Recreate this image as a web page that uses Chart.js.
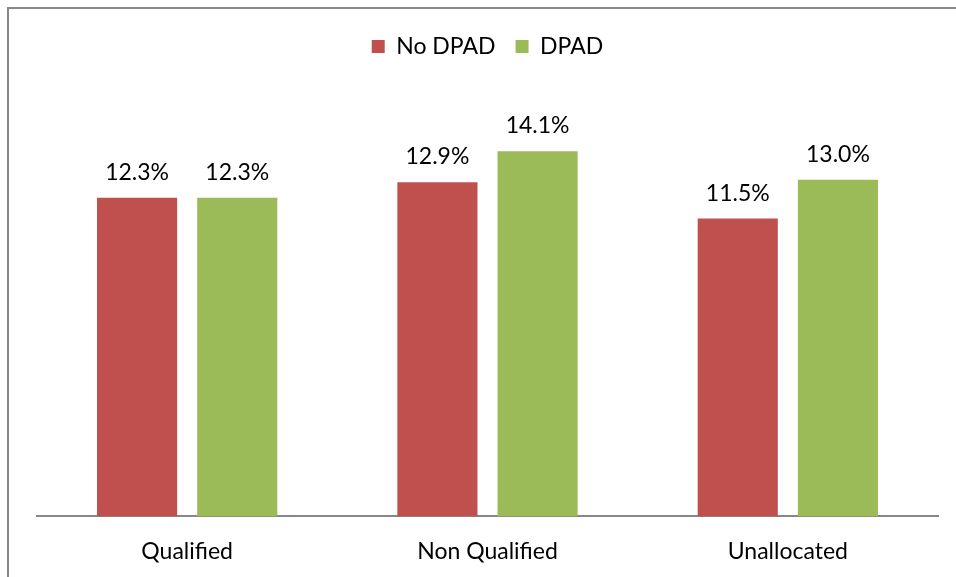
<!DOCTYPE html>
<html>
<head>
<meta charset="utf-8">
<script src="https://cdn.jsdelivr.net/npm/chart.js@4"></script>
<style>
  html, body { margin: 0; padding: 0; background: #fff; overflow: hidden; }
  #wrap { position: absolute; left: 7px; top: 7px; width: 949px; height: 570px; overflow: hidden;
          border-left: 2px solid #878787; border-top: 2px solid #878787; box-sizing: border-box; }
  #chart { position: absolute; left: 0; top: 0; }
</style>
</head>
<body>
<div id="wrap"><canvas id="chart" width="947" height="577"></canvas></div>
<script>
// categories and series
var categories = ['Qualified', 'Non Qualified', 'Unallocated'];
var noDpad = [12.3, 12.9, 11.5];
var dpad = [12.3, 14.1, 13.0];

var FONT = 'Lato, "Noto Sans", sans-serif';

// value labels above each bar
var valueLabels = {
    id: 'valueLabels',
    afterDatasetsDraw: function (chart) {
        var ctx = chart.ctx;
        ctx.save();
        ctx.font = '23px ' + FONT;
        ctx.fillStyle = '#000';
        ctx.textAlign = 'center';
        ctx.textBaseline = 'alphabetic';
        chart.data.datasets.forEach(function (ds, i) {
            chart.getDatasetMeta(i).data.forEach(function (bar, j) {
                ctx.fillText(ds.data[j].toFixed(1) + '%', bar.x, bar.y - 18);
            });
        });
        ctx.restore();
    }
};

// extra room under the legend
var legendGap = {
    id: 'legendGap',
    beforeInit: function (chart) {
        var fit = chart.legend.fit;
        chart.legend.fit = function () {
            fit.bind(chart.legend)();
            this.height += 34;
        };
    }
};

var ctx = document.getElementById('chart').getContext('2d');
var chart = new Chart(ctx, {
    type: 'bar',
    data: {
        labels: categories,
        datasets: [{
            label: 'No DPAD',
            data: noDpad,
            backgroundColor: '#C0504D',
            categoryPercentage: 0.667,
            barPercentage: 0.8
        }, {
            label: 'DPAD',
            data: dpad,
            backgroundColor: '#9BBB59',
            categoryPercentage: 0.667,
            barPercentage: 0.8
        }]
    },
    options: {
        responsive: false,
        animation: false,
        layout: {
            padding: { left: 28, right: 18, top: 6, bottom: 0 }
        },
        plugins: {
            legend: {
                position: 'top',
                labels: {
                    boxWidth: 13,
                    boxHeight: 13,
                    padding: 20,
                    color: '#000',
                    font: { family: FONT, size: 23 }
                }
            },
            tooltip: { enabled: false }
        },
        scales: {
            x: {
                grid: { display: false, drawTicks: false },
                border: { color: '#878787', width: 2 },
                ticks: {
                    color: '#000',
                    padding: 21,
                    font: { family: FONT, size: 23 }
                }
            },
            y: {
                display: false,
                min: 0,
                max: 16
            }
        }
    },
    plugins: [valueLabels, legendGap]
});
</script>
</body>
</html>
